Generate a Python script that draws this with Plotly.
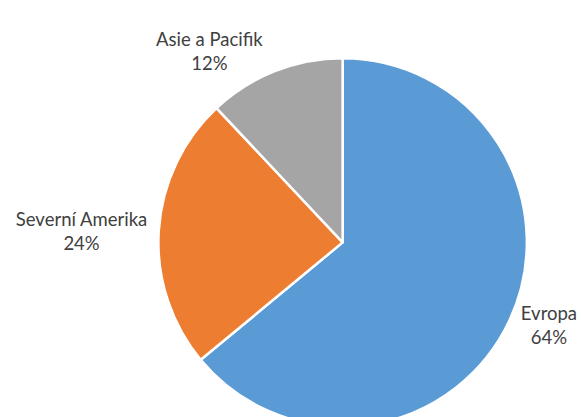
import plotly.graph_objects as go

labels = ["Evropa", "Severní Amerika", "Asie a Pacifik"]
values = [64, 24, 12]
colors = ["#5B9BD5", "#ED7D31", "#A5A5A5"]

W, H = 582, 432
cx, top, r = 345, 58, 185.5
fig = go.Figure(go.Pie(
    labels=labels,
    values=values,
    sort=False,
    direction="clockwise",
    rotation=0,
    marker=dict(colors=colors, line=dict(color="white", width=2.5)),
    texttemplate="%{label}<br>%{percent:.0%}",
    textposition="outside",
    textfont=dict(family="Lato", size=18.5, color="#404040"),
    hoverinfo="label+percent",
    showlegend=False,
    domain=dict(x=[(cx - r) / W, (cx + r) / W], y=[(H - top - 2 * r) / H, (H - top) / H]),
))
fig.update_layout(
    width=W, height=H,
    margin=dict(l=0, r=0, t=0, b=0),
    paper_bgcolor="white",
    plot_bgcolor="white",
)
fig.write_html(
    "out.html",
    config={"displayModeBar": False},
    post_script="document.body.style.margin='0';document.body.style.overflow='hidden';",
)
